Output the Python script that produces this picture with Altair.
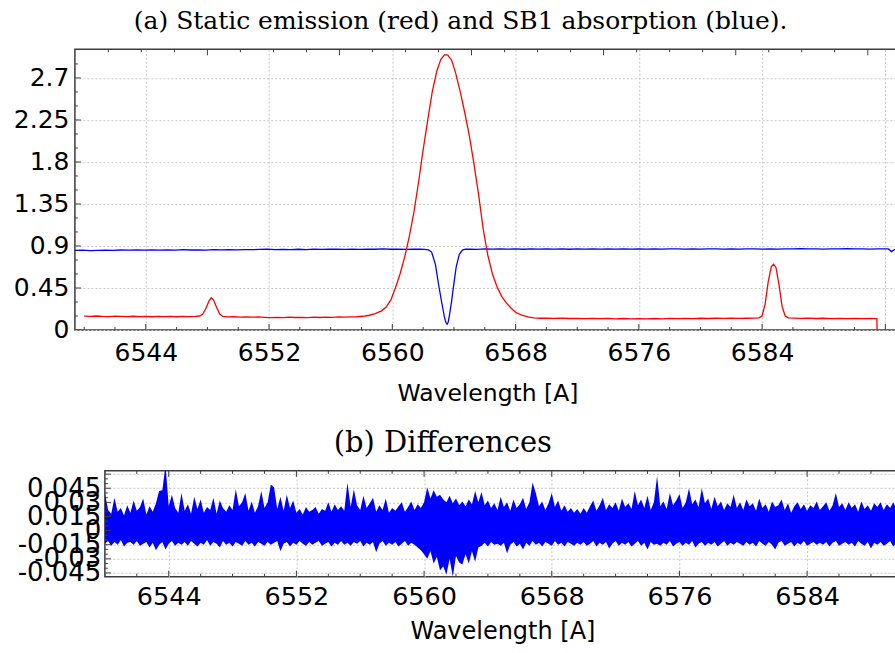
import altair as alt
import pandas as pd

# ---------------- data ----------------
red_wl = [6540.0, 6540.4, 6540.8, 6541.2, 6541.6, 6542.0, 6542.4, 6542.8, 6543.2, 6543.6,
          6544.0, 6544.4, 6544.8, 6545.2, 6545.6, 6546.0, 6546.4, 6546.8, 6547.2, 6547.5,
          6547.7, 6547.9, 6548.1, 6548.25, 6548.4, 6548.6, 6548.8, 6549.0, 6549.3, 6549.7,
          6550.1, 6550.5, 6550.9, 6551.3, 6551.7, 6552.1, 6552.5, 6552.9, 6553.3, 6553.7,
          6554.1, 6554.5, 6554.9, 6555.3, 6555.7, 6556.1, 6556.5, 6556.9, 6557.3, 6557.7,
          6558.1, 6558.5, 6558.9, 6559.3, 6559.6, 6559.9, 6560.2, 6560.5, 6560.8, 6561.1,
          6561.4, 6561.7, 6562.0, 6562.3, 6562.6, 6562.9, 6563.15, 6563.4, 6563.6, 6563.85,
          6564.1, 6564.4, 6564.7, 6565.0, 6565.3, 6565.6, 6565.9, 6566.2, 6566.5, 6566.8,
          6567.1, 6567.4, 6567.7, 6568.0, 6568.4, 6568.8, 6569.2, 6569.6, 6570.0, 6570.5,
          6571.0, 6571.5, 6572.0, 6572.5, 6573.0, 6573.5, 6574.0, 6574.5, 6575.0, 6575.5,
          6576.0, 6576.5, 6577.0, 6577.5, 6578.0, 6578.5, 6579.0, 6579.5, 6580.0, 6580.5,
          6581.0, 6581.5, 6582.0, 6582.5, 6583.0, 6583.5, 6583.8, 6584.0, 6584.2, 6584.4,
          6584.6, 6584.75, 6584.9, 6585.1, 6585.3, 6585.5, 6585.7, 6586.1, 6586.5, 6587.0,
          6587.5, 6588.0, 6588.5, 6589.0, 6589.5, 6590.0, 6590.5, 6591.0, 6591.45, 6591.46]
red_flux = [0.148, 0.145, 0.150, 0.146, 0.144, 0.148, 0.145, 0.143, 0.147, 0.144,
            0.146, 0.142, 0.145, 0.143, 0.146, 0.142, 0.145, 0.143, 0.146, 0.150,
            0.170, 0.230, 0.310, 0.345, 0.320, 0.240, 0.170, 0.145, 0.140, 0.142,
            0.138, 0.141, 0.137, 0.140, 0.136, 0.133, 0.136, 0.133, 0.137, 0.134,
            0.136, 0.133, 0.137, 0.134, 0.138, 0.136, 0.140, 0.138, 0.141, 0.142,
            0.147, 0.158, 0.175, 0.205, 0.245, 0.320, 0.450, 0.600, 0.780, 1.000,
            1.260, 1.580, 1.930, 2.250, 2.560, 2.780, 2.900, 2.950, 2.945, 2.890,
            2.760, 2.560, 2.330, 2.080, 1.780, 1.450, 1.080, 0.800, 0.600, 0.460,
            0.360, 0.290, 0.235, 0.190, 0.160, 0.140, 0.130, 0.126, 0.128, 0.124,
            0.127, 0.123, 0.125, 0.122, 0.125, 0.121, 0.124, 0.120, 0.123, 0.119,
            0.122, 0.120, 0.123, 0.120, 0.124, 0.121, 0.125, 0.122, 0.126, 0.123,
            0.126, 0.124, 0.127, 0.124, 0.126, 0.127, 0.130, 0.150, 0.280, 0.520,
            0.680, 0.705, 0.670, 0.480, 0.250, 0.150, 0.130, 0.127, 0.124, 0.127,
            0.123, 0.126, 0.122, 0.125, 0.122, 0.125, 0.121, 0.124, 0.122, 0.0]

blue_wl = [6539.4, 6539.9, 6540.4, 6540.9, 6541.4, 6541.9, 6542.4, 6542.9, 6543.4, 6543.9,
           6544.4, 6544.9, 6545.4, 6545.9, 6546.4, 6546.9, 6547.4, 6547.9, 6548.4, 6548.9,
           6549.4, 6549.9, 6550.4, 6550.9, 6551.4, 6551.9, 6552.4, 6552.9, 6553.4, 6553.9,
           6554.4, 6554.9, 6555.4, 6555.9, 6556.4, 6556.9, 6557.4, 6557.9, 6558.4, 6558.9,
           6559.4, 6559.9, 6560.4, 6560.9, 6561.4, 6561.8, 6562.1, 6562.35, 6562.55, 6562.8,
           6563.0, 6563.2, 6563.38, 6563.48, 6563.55, 6563.63, 6563.72, 6563.85, 6563.95, 6564.15,
           6564.35, 6564.55, 6564.75, 6565.0, 6565.5, 6566.0, 6566.5, 6567.0, 6567.5, 6568.0,
           6568.5, 6569.0, 6569.5, 6570.0, 6570.5, 6571.0, 6571.5, 6572.0, 6572.5, 6573.0,
           6573.5, 6574.0, 6574.5, 6575.0, 6575.5, 6576.0, 6576.5, 6577.0, 6577.5, 6578.0,
           6578.5, 6579.0, 6579.5, 6580.0, 6580.5, 6581.0, 6581.5, 6582.0, 6582.5, 6583.0,
           6583.5, 6584.0, 6584.5, 6585.0, 6585.5, 6586.0, 6586.5, 6587.0, 6587.5, 6588.0,
           6588.5, 6589.0, 6589.5, 6590.0, 6590.5, 6591.0, 6591.5, 6592.0, 6592.2, 6592.4,
           6592.6, 6592.95]
blue_flux = [0.852, 0.855, 0.851, 0.854, 0.856, 0.853, 0.857, 0.855, 0.858, 0.856,
             0.859, 0.855, 0.858, 0.856, 0.860, 0.857, 0.859, 0.856, 0.860, 0.858,
             0.861, 0.859, 0.862, 0.860, 0.863, 0.866, 0.862, 0.864, 0.861, 0.865,
             0.862, 0.866, 0.863, 0.865, 0.867, 0.863, 0.866, 0.864, 0.867, 0.865,
             0.868, 0.865, 0.867, 0.864, 0.866, 0.865, 0.863, 0.858, 0.835, 0.700,
             0.490, 0.300, 0.140, 0.080, 0.062, 0.085, 0.170, 0.310, 0.440, 0.680,
             0.810, 0.855, 0.865, 0.866, 0.864, 0.868, 0.866, 0.869, 0.866, 0.868,
             0.865, 0.869, 0.867, 0.870, 0.866, 0.868, 0.865, 0.869, 0.867, 0.870,
             0.866, 0.868, 0.866, 0.869, 0.867, 0.870, 0.866, 0.868, 0.867, 0.870,
             0.868, 0.866, 0.869, 0.867, 0.870, 0.868, 0.866, 0.869, 0.867, 0.870,
             0.868, 0.866, 0.869, 0.867, 0.870, 0.868, 0.871, 0.868, 0.870, 0.867,
             0.870, 0.868, 0.871, 0.868, 0.870, 0.867, 0.870, 0.868, 0.868, 0.840,
             0.862, 0.866]

# residual envelope, units of 1e-3, sampled at 6540.0 + 0.2 i
diff_start = 6540.0
diff_step = 0.2
diff_hi = [40, 22, 18, 35, 20, 24, 16, 27, 19, 32, 21, 25, 34, 17, 26, 20, 29, 42, 43, 70, 26, 38, 24, 19, 40,
           21, 28, 18, 36, 23, 33, 19, 25, 22, 35, 18, 32, 24, 20, 27, 22, 44, 26, 30, 40, 21, 31, 19, 26, 42,
           24, 30, 49, 46, 23, 36, 21, 38, 24, 32, 19, 23, 17, 25, 20, 22, 25, 18, 23, 21, 30, 20, 28, 22, 26,
           21, 51, 25, 44, 27, 22, 37, 24, 29, 35, 20, 27, 22, 34, 19, 24, 21, 26, 30, 20, 25, 31, 22, 28, 24,
           30, 46, 34, 43, 36, 38, 33, 30, 37, 29, 34, 27, 31, 26, 33, 28, 42, 30, 41, 27, 32, 24, 29, 22, 36,
           25, 30, 21, 33, 24, 28, 35, 23, 30, 51, 40, 26, 31, 22, 29, 40, 25, 32, 21, 27, 20, 24, 19, 23, 18,
           24, 19, 26, 32, 21, 27, 35, 22, 28, 24, 30, 21, 34, 25, 29, 23, 42, 27, 33, 24, 37, 22, 30, 58, 26,
           31, 23, 40, 27, 32, 39, 24, 30, 45, 28, 33, 25, 45, 29, 34, 23, 36, 26, 31, 22, 29, 25, 38, 24, 30,
           22, 33, 26, 29, 21, 34, 24, 28, 20, 31, 25, 27, 33, 22, 29, 19, 26, 30, 23, 28, 21, 27, 24, 31, 22,
           26, 30, 21, 27, 40, 25, 29, 22, 30, 24, 28, 20, 31, 23, 27, 21, 29, 25, 30, 22, 28, 24, 30, 23, 27]
diff_lo = [-14, -11, -16, -12, -15, -10, -17, -13, -12, -15, -11, -16, -14, -12, -18, -13, -21, -15, -12, -20, -14, -11, -16, -13, -15,
           -12, -16, -11, -14, -17, -13, -15, -10, -16, -12, -14, -18, -11, -15, -13, -17, -12, -14, -16, -11, -15, -13, -17, -12, -14,
           -16, -12, -15, -13, -11, -22, -14, -12, -17, -13, -15, -11, -14, -16, -12, -15, -13, -11, -16, -14, -12, -17, -13, -15, -11,
           -15, -13, -16, -12, -14, -11, -17, -13, -15, -12, -23, -14, -11, -16, -13, -15, -12, -17, -14, -11, -16, -13, -15, -18, -21,
           -25, -30, -22, -35, -28, -42, -38, -47, -30, -49, -27, -34, -36, -25, -35, -22, -33, -18, -16, -13, -17, -12, -15, -14, -16,
           -13, -24, -15, -12, -17, -14, -20, -13, -16, -11, -15, -13, -17, -12, -14, -16, -11, -15, -13, -17, -12, -14, -16, -13, -15,
           -12, -16, -14, -11, -17, -13, -15, -12, -19, -14, -11, -16, -13, -15, -12, -17, -14, -11, -16, -13, -20, -12, -15, -14, -16,
           -13, -15, -11, -17, -14, -12, -16, -13, -15, -11, -18, -14, -12, -16, -13, -15, -12, -17, -14, -11, -16, -13, -15, -12, -14,
           -16, -12, -15, -13, -17, -11, -14, -16, -12, -15, -20, -13, -11, -16, -14, -12, -17, -13, -15, -11, -16, -14, -12, -15, -13,
           -15, -12, -17, -13, -11, -16, -14, -12, -15, -13, -17, -11, -14, -16, -12, -19, -13, -15, -12, -16, -14, -11, -17, -13, -15]

# tick values
wl_major = [6544, 6552, 6560, 6568, 6576, 6584, 6592]
wl_minor = [6540, 6542, 6546, 6548, 6550, 6554, 6556, 6558, 6562, 6564, 6566,
            6570, 6572, 6574, 6578, 6580, 6582, 6586, 6588, 6590]
sec_major = [6548.0, 6556.57, 6565.14, 6573.71, 6582.29, 6590.86]
sec_minor = [6541.57, 6543.71, 6545.86, 6550.14, 6552.29, 6554.43, 6558.71, 6560.86,
             6563.0, 6567.29, 6569.43, 6571.57, 6575.86, 6578.0, 6580.14, 6584.43,
             6586.57, 6588.71]
flux_major = [0, 0.45, 0.9, 1.35, 1.8, 2.25, 2.7]
flux_minor = [0.15, 0.3, 0.6, 0.75, 1.05, 1.2, 1.5, 1.65, 1.95, 2.1, 2.4, 2.55, 2.85]
diff_major = [-0.045, -0.03, -0.015, 0, 0.015, 0.03, 0.045, 0.06]
diff_minor = [-0.04, -0.035, -0.025, -0.02, -0.01, -0.005, 0.005, 0.01, 0.02,
              0.025, 0.035, 0.04, 0.05, 0.055]

# ---------------- layout / style ----------------
W1, H1 = 826, 281
W2, H2 = 796, 106
SHIFT = 30          # bottom panel starts further right than the top one
SPINE = "#3c3c3c"
GRID = dict(grid=True, gridColor="#c6c6c6", gridDash=[2, 2], gridWidth=1,
            ticks=False, domain=False, labelFont="DejaVu Sans", labelColor="black",
            labelFlush=False, labelOverlap=False)
TTL = dict(titleFont="DejaVu Sans", titleFontWeight="normal", titleColor="black")

xs1 = alt.Scale(domain=[6539.4, 6592.95], nice=False, zero=False)
ys1 = alt.Scale(domain=[0, 3.007], nice=False, zero=False)
xs2 = alt.Scale(domain=[6540.0, 6589.82], nice=False, zero=False)
ys2 = alt.Scale(domain=[-0.049, 0.0635], nice=False, zero=False)

x_ax1 = alt.Axis(values=wl_major, labelExpr="datum.value > 6590 ? '' : format(datum.value, 'd')",
                 labelFontSize=25, labelPadding=11, title="Wavelength [A]", titleFontSize=23.5,
                 titlePadding=16, **GRID, **TTL)
y_ax1 = alt.Axis(values=flux_major, labelExpr="format(datum.value, '~g')", labelFontSize=25,
                 labelPadding=6, minExtent=69, maxExtent=69, title=None, **GRID)
x_ax2 = alt.Axis(values=wl_major, labelExpr="format(datum.value, 'd')",
                 labelFontSize=25.5, labelPadding=8, title="Wavelength [A]", titleFontSize=24,
                 titlePadding=9, **GRID, **TTL)
y_ax2 = alt.Axis(values=diff_major,
                 labelExpr="datum.value > 0.05 ? '' : (datum.value < 0 ? '-' + format(-datum.value, '~g') : format(datum.value, '~g'))",
                 labelFontSize=26, labelPadding=4, title=None, **GRID)


def xticks(vals, xs, ax, H, L, top):
    df = pd.DataFrame({"wl": vals})
    y0, y1 = (0, L) if top else (H - L, H)
    return alt.Chart(df).mark_rule(color=SPINE, strokeWidth=1, clip=True).encode(
        x=alt.X("wl:Q", scale=xs, axis=ax), y=alt.value(y0), y2=alt.value(y1))


def yticks(vals, ys, ax, L):
    df = pd.DataFrame({"v": vals})
    return alt.Chart(df).mark_rule(color=SPINE, strokeWidth=1, clip=True).encode(
        y=alt.Y("v:Q", scale=ys, axis=ax), x=alt.value(0), x2=alt.value(L))


red_df = pd.DataFrame({"wl": red_wl, "flux": red_flux})
blue_df = pd.DataFrame({"wl": blue_wl, "flux": blue_flux})

blue_line = alt.Chart(blue_df).mark_line(color="#0000ff", strokeWidth=1.3, clip=True).encode(
    x=alt.X("wl:Q", scale=xs1, axis=x_ax1), y=alt.Y("flux:Q", scale=ys1, axis=y_ax1))
red_line = alt.Chart(red_df).mark_line(color="#ff0000", strokeWidth=1.3, clip=True).encode(
    x=alt.X("wl:Q", scale=xs1, axis=x_ax1), y=alt.Y("flux:Q", scale=ys1, axis=y_ax1))

top = alt.layer(
    blue_line, red_line,
    xticks(wl_major, xs1, x_ax1, H1, 6, False), xticks(wl_minor, xs1, x_ax1, H1, 3, False),
    xticks(sec_major, xs1, x_ax1, H1, 6, True), xticks(sec_minor, xs1, x_ax1, H1, 3, True),
    yticks(flux_major, ys1, y_ax1, 6), yticks(flux_minor, ys1, y_ax1, 3),
).properties(
    width=W1, height=H1,
    title=alt.TitleParams("(a) Static emission (red) and SB1 absorption (blue).",
                          font="DejaVu Serif", fontSize=25, fontWeight="normal", color="black",
                          anchor="start", frame="group", dx=59, offset=15),
)

diff_df = pd.DataFrame({
    "wl": [diff_start + i * diff_step for i in range(len(diff_hi))],
    "hi": [v / 1000.0 for v in diff_hi],
    "lo": [v / 1000.0 for v in diff_lo],
})

diff_band = alt.Chart(diff_df).mark_area(color="#0000ff", opacity=1, clip=True).encode(
    x=alt.X("wl:Q", scale=xs2, axis=x_ax2),
    y=alt.Y("hi:Q", scale=ys2, axis=y_ax2),
    y2="lo:Q",
)

bottom = alt.layer(
    diff_band,
    xticks(wl_major, xs2, x_ax2, H2, 6, False), xticks(wl_minor, xs2, x_ax2, H2, 3, False),
    xticks(wl_major, xs2, x_ax2, H2, 6, True), xticks(wl_minor, xs2, x_ax2, H2, 3, True),
    yticks(diff_major, ys2, y_ax2, 6), yticks(diff_minor, ys2, y_ax2, 3),
).properties(
    width=W2, height=H2,
    title=alt.TitleParams("(b) Differences", font="DejaVu Serif", fontSize=29,
                          fontWeight="normal", color="black", anchor="start", frame="group",
                          dx=229, offset=3),
)

# invisible spacer so that the lower panel sits further right
spacer = alt.Chart(pd.DataFrame({"z": [0]})).mark_point(opacity=0).encode(
    x=alt.value(0), y=alt.value(0)
).properties(width=SHIFT, height=H2, view=alt.ViewBackground(strokeOpacity=0))

bottom_row = alt.hconcat(spacer, bottom, spacing=0, bounds="flush")

chart = alt.vconcat(top, bottom_row, spacing=21).properties(
    padding={"left": 5, "top": 8, "right": -6, "bottom": 0},
    background="white",
).configure_view(stroke=SPINE, strokeWidth=1.5)

chart.save("out.html", embed_options={"renderer": "svg", "actions": False})
